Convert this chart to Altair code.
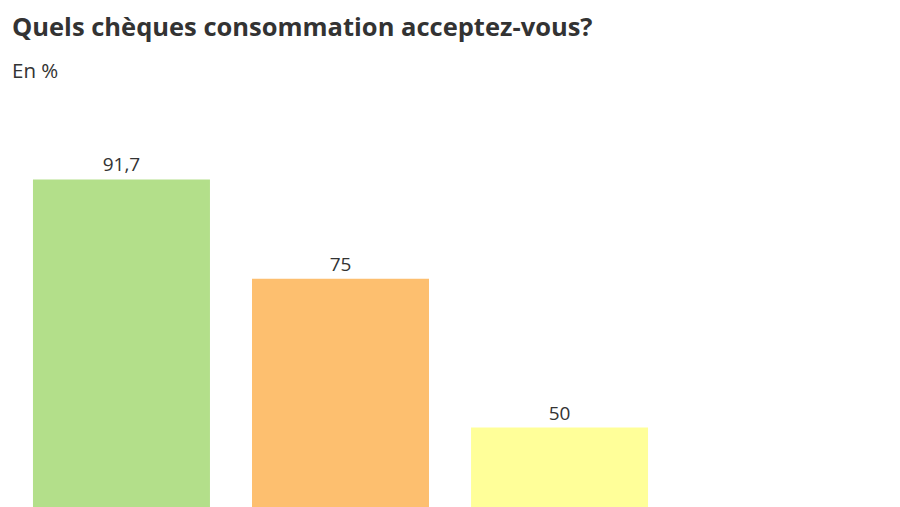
import altair as alt
import pandas as pd

categories = ["Catégorie A", "Catégorie B", "Catégorie C"]
values = [91.7, 75, 50]
colors = ["#b3df8a", "#fdbf6f", "#ffff99"]

df = pd.DataFrame({"cat": categories, "value": values})

base = alt.Chart(df).transform_calculate(
    label="replace(format(datum.value, '.3~'), '.', ',')"
)

x = alt.X("cat:N", sort=categories, axis=None,
          scale=alt.Scale(paddingInner=0.192, paddingOuter=0.114))
y = alt.Y("value:Q", axis=None, scale=alt.Scale(domain=[0, 100], nice=False))

bars = base.mark_bar().encode(
    x=x, y=y,
    color=alt.Color("cat:N", scale=alt.Scale(domain=categories, range=colors), legend=None),
)

labels = base.mark_text(dy=-14, fontSize=19, font="Open Sans", color="#333333").encode(
    x=x, y=y, text="label:N"
)

chart = (bars + labels).properties(
    width=665,
    height=595,
    background="white",
    padding={"top": 8, "left": 0, "right": 0, "bottom": 0},
    title=alt.TitleParams(
        text="Quels chèques consommation acceptez-vous?",
        subtitle="En %",
        anchor="start",
        font="Open Sans",
        fontSize=25.5,
        fontWeight="bold",
        color="#333333",
        subtitleFont="Open Sans",
        subtitleFontSize=20.5,
        subtitleColor="#333333",
        subtitlePadding=20,
        offset=48,
        dx=4,
    ),
).configure_view(strokeWidth=0, stroke="transparent")

chart.save("out.html", embed_options={"renderer": "svg", "actions": False})
